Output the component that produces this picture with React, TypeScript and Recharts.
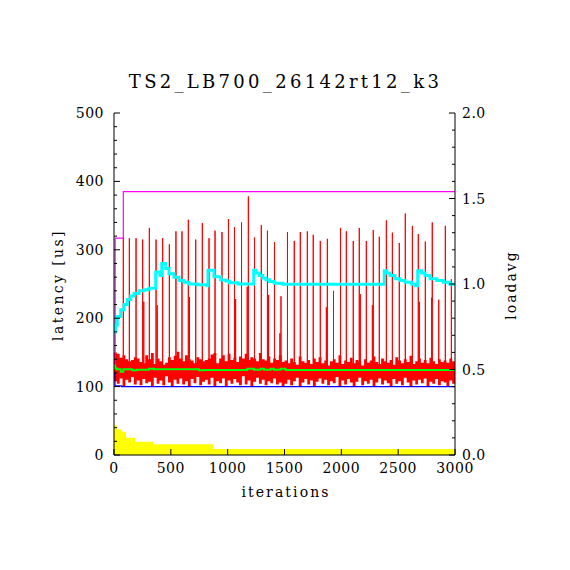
import React from 'react';
import { ComposedChart, Line, Area, XAxis, YAxis } from 'recharts';

const TITLE = 'TS2_LB700_26142rt12_k3';
const FONT = '"DejaVu Serif", serif';

// latency noise band, one sample per 25 iterations (upper / lower extent in us)
const BUCKET = 25;
const bandHigh = [
  150, 148, 142, 146, 140, 137, 139, 143, 141, 136,
  134, 146, 140, 149, 133, 141, 137, 132, 135, 143,
  139, 145, 151, 141, 137, 146, 140, 138, 134, 143,
  140, 137, 139, 141, 147, 149, 134, 141, 146, 137,
  148, 139, 142, 136, 144, 141, 148, 139, 143, 141,
  137, 149, 140, 138, 144, 135, 141, 139, 146, 136,
  138, 134, 141, 136, 132, 144, 137, 135, 139, 133,
  141, 136, 143, 134, 138, 131, 137, 140, 135, 146,
  133, 138, 136, 142, 134, 139, 137, 131, 140, 135,
  138, 144, 136, 133, 141, 137, 135, 139, 132, 143,
  138, 134, 140, 136, 145, 133, 137, 141, 135, 139,
  134, 142, 137, 133, 140, 136, 138, 135, 141, 137,
];
const bandLow = [
  108, 104, 112, 101, 110, 106, 114, 103, 109, 102,
  111, 105, 107, 100, 113, 104, 109, 102, 115, 106,
  101, 110, 104, 112, 103, 108, 100, 111, 105, 114,
  102, 107, 110, 103, 113, 101, 108, 105, 112, 100,
  109, 104, 111, 106, 102, 115, 103, 109, 101, 107,
  113, 104, 110, 102, 108, 105, 112, 103, 106, 101,
  104, 110, 102, 108, 113, 101, 106, 111, 103, 109,
  100, 107, 112, 104, 110, 102, 108, 105, 114, 101,
  109, 103, 111, 106, 100, 107, 113, 102, 108, 104,
  110, 101, 106, 112, 103, 109, 105, 100, 111, 104,
  108, 102, 113, 106, 101, 109, 103, 110, 105, 112,
  100, 107, 104, 111, 102, 108, 106, 101, 109, 104,
];

// periodic latency spikes
const spikeIter = [
  82, 135, 194, 252, 311, 370, 428, 487, 545, 598, 654, 719, 777, 836, 889, 950,
  1007, 1060, 1122, 1182, 1236, 1296, 1350, 1412, 1469, 1526, 1586, 1639, 1701,
  1753, 1815, 1877, 1931, 1993, 2044, 2105, 2158, 2220, 2281, 2334, 2396, 2449,
  2510, 2563, 2625, 2677, 2739, 2800, 2857, 2915, 2968,
];
const spikeValue = [
  317, 317, 317, 315, 332, 315, 317, 308, 327, 327, 344, 315, 339, 317, 328, 326,
  345, 333, 340, 378, 318, 336, 328, 311, 232, 326, 313, 326, 327,
  322, 313, 316, 240, 332, 327, 313, 332, 313, 329, 319, 343, 325,
  310, 353, 335, 323, 312, 340, 227, 335, 257,
];
const minorSpikeIter = [262, 380, 664, 1070, 1172, 1360, 1460, 1868, 2167, 2273, 2686, 2795];
const minorSpikeValue = [224, 219, 231, 228, 246, 234, 178, 216, 235, 219, 224, 230];

// running min / max / average latency
const minIter = [0, 9, 67, 3000];
const minValue = [119, 101, 100, 100];
const maxIter = [0, 10, 82, 3000];
const maxValue = [132, 317, 385, 385];
const avgIter = [0, 10, 23, 59, 82, 161, 199, 308, 352, 748, 792, 1173, 1231, 1290, 1320, 1378, 1407, 1466, 1510, 3000];
const avgValue = [131, 127, 125.2, 121.8, 125.2, 123.8, 124.7, 126.2, 125.2, 123.8, 124.3, 126.2, 124.7, 126.2, 124.7, 126.2, 124.7, 126.2, 124.3, 124.3];

// loadavg (right axis)
const loadIter = [
  0, 15, 29, 59, 88, 117, 147, 176, 220, 264, 308, 367, 405, 420, 455, 484, 528, 572,
  616, 660, 733, 821, 827, 880, 939, 985, 1015, 1088, 1229, 1249, 1279, 1308, 1337,
  1367, 1410, 1484, 2378, 2399, 2428, 2472, 2516, 2560, 2619, 2650, 2672, 2707, 2736,
  2780, 2839, 2897, 2956, 3000,
];
const loadValue = [
  0.72, 0.76, 0.81, 0.85, 0.88, 0.91, 0.93, 0.945, 0.96, 0.967, 0.975, 1.07, 1.05, 1.12,
  1.09, 1.06, 1.04, 1.02, 1.01, 1.0, 0.995, 0.99, 1.08, 1.043, 1.023, 1.017, 1.007, 1.0,
  1.08, 1.065, 1.05, 1.035, 1.025, 1.015, 1.005, 0.998, 1.078, 1.065, 1.05, 1.03, 1.02,
  1.01, 0.998, 0.99, 1.078, 1.065, 1.05, 1.03, 1.02, 1.01, 0.998, 0.998,
];

// histogram-like yellow block at the bottom (left axis units)
const histIter = [0, 23, 67, 106, 185, 346, 874, 3000];
const histValue = [44, 37.5, 34, 25.3, 19.5, 15.6, 8.8, 8.8];

const xTicks = [0, 500, 1000, 1500, 2000, 2500, 3000];
const leftTicks = [
  0, 20, 40, 60, 80, 100, 120, 140, 160, 180, 200, 220, 240, 260, 280, 300,
  320, 340, 360, 380, 400, 420, 440, 460, 480, 500,
];
const rightTicks = [
  0, 0.1, 0.2, 0.3, 0.4, 0.5, 0.6, 0.7, 0.8, 0.9, 1.0,
  1.1, 1.2, 1.3, 1.4, 1.5, 1.6, 1.7, 1.8, 1.9, 2.0,
];

const pairs = (xs: number[], ys: number[]) => xs.map((x, i) => ({ x, y: ys[i] }));

const bandData = bandHigh.map((h, i) => ({ x: i * BUCKET, range: [bandLow[i], h] }));
bandData.push({ x: 3000, range: [bandLow[bandLow.length - 1], bandHigh[bandHigh.length - 1]] });

const SPIKE_BASE = 120;
const spikeData = [
  ...spikeIter.map((x, i) => ({ x, y: spikeValue[i] })),
  ...minorSpikeIter.map((x, i) => ({ x, y: minorSpikeValue[i] })),
]
  .sort((a, b) => a.x - b.x)
  .flatMap((p) => [
    { x: p.x, y: SPIKE_BASE },
    { x: p.x, y: p.y },
    { x: p.x, y: SPIKE_BASE },
  ]);

const LeftTick = (props: any) => {
  const { x, y, payload } = props;
  const major = payload.value % 100 === 0;
  return (
    <g>
      <line x1={x} y1={y} x2={x + (major ? 6 : 3)} y2={y} stroke="#000" />
      {major && (
        <text x={x - 10} y={y} dy="0.36em" textAnchor="end" fontSize={14} fontFamily={FONT} fill="#000" letterSpacing={0.5}>
          {payload.value}
        </text>
      )}
    </g>
  );
};

const RightTick = (props: any) => {
  const { x, y, payload } = props;
  const major = Math.round(payload.value * 10) % 5 === 0;
  return (
    <g>
      <line x1={x} y1={y} x2={x - (major ? 6 : 3)} y2={y} stroke="#000" />
      {major && (
        <text x={x + 7} y={y} dy="0.36em" textAnchor="start" fontSize={14} fontFamily={FONT} fill="#000" letterSpacing={0.5}>
          {payload.value.toFixed(1)}
        </text>
      )}
    </g>
  );
};

const BottomTick = (props: any) => {
  const { x, y, payload } = props;
  return (
    <g>
      <line x1={x} y1={y} x2={x} y2={y - 6} stroke="#000" />
      <text x={x} y={y + 18} textAnchor="middle" fontSize={14} fontFamily={FONT} fill="#000" letterSpacing={0.5}>
        {payload.value}
      </text>
    </g>
  );
};

export default function App() {
  return (
    <div style={{ position: 'absolute', left: 0, top: 0, width: 570, height: 570, background: '#fff' }}>
      <ComposedChart width={570} height={570} margin={{ top: 113, right: 55, bottom: 85, left: 54 }}>
        <XAxis
          type="number"
          dataKey="x"
          domain={[0, 3000]}
          ticks={xTicks}
          interval={0}
          height={30}
          tickSize={0}
          tickMargin={0}
          tick={<BottomTick />}
          axisLine={{ stroke: '#000' }}
          allowDataOverflow
        />
        <YAxis
          yAxisId="left"
          type="number"
          domain={[0, 500]}
          ticks={leftTicks}
          interval={0}
          width={60}
          tickSize={0}
          tickMargin={0}
          tick={<LeftTick />}
          axisLine={{ stroke: '#000' }}
          allowDataOverflow
        />
        <YAxis
          yAxisId="right"
          orientation="right"
          type="number"
          domain={[0, 2]}
          ticks={rightTicks}
          interval={0}
          width={60}
          tickSize={0}
          tickMargin={0}
          tick={<RightTick />}
          axisLine={{ stroke: '#000' }}
          allowDataOverflow
        />
        <Area
          yAxisId="left"
          data={pairs(histIter, histValue)}
          dataKey="y"
          type="stepAfter"
          fill="#ffff00"
          fillOpacity={1}
          stroke="none"
          isAnimationActive={false}
        />
        <Area
          yAxisId="left"
          data={bandData}
          dataKey="range"
          type="stepAfter"
          fill="#ff0000"
          fillOpacity={1}
          stroke="none"
          isAnimationActive={false}
        />
        <Line
          yAxisId="left"
          data={spikeData}
          dataKey="y"
          type="linear"
          stroke="#ff0000"
          strokeWidth={1}
          dot={false}
          isAnimationActive={false}
        />
        <Line
          yAxisId="left"
          data={pairs(minIter, minValue)}
          dataKey="y"
          type="stepAfter"
          stroke="#0000ff"
          strokeWidth={1.2}
          dot={false}
          isAnimationActive={false}
        />
        <Line
          yAxisId="left"
          data={pairs(maxIter, maxValue)}
          dataKey="y"
          type="stepAfter"
          stroke="#ff00ff"
          strokeWidth={1.2}
          dot={false}
          isAnimationActive={false}
        />
        <Line
          yAxisId="left"
          data={pairs(avgIter, avgValue)}
          dataKey="y"
          type="stepAfter"
          stroke="#00ff00"
          strokeWidth={2}
          dot={false}
          isAnimationActive={false}
        />
        <Line
          yAxisId="right"
          data={pairs(loadIter, loadValue)}
          dataKey="y"
          type="stepAfter"
          stroke="#00ffff"
          strokeWidth={3}
          dot={false}
          isAnimationActive={false}
        />
      </ComposedChart>
      <svg
        width={570}
        height={570}
        style={{ position: 'absolute', left: 0, top: 0, pointerEvents: 'none' }}
        fontFamily={FONT}
        fill="#000"
      >
        <text x={285.5} y={88} textAnchor="middle" fontSize={18} letterSpacing={3.3}>
          {TITLE}
        </text>
        <text x={286} y={497} textAnchor="middle" fontSize={14} letterSpacing={2.1}>
          iterations
        </text>
        <text transform="translate(63,285) rotate(-90)" textAnchor="middle" fontSize={14} letterSpacing={2.4}>
          latency [us]
        </text>
        <text transform="translate(516,285) rotate(-90)" textAnchor="middle" fontSize={14} letterSpacing={2}>
          loadavg
        </text>
      </svg>
    </div>
  );
}
